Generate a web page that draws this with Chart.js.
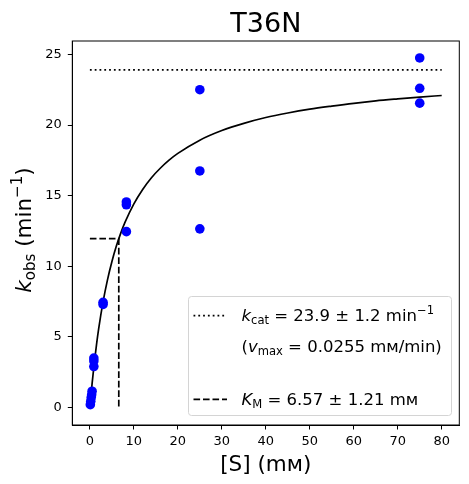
<!DOCTYPE html>
<html>
<head>
<meta charset="utf-8">
<script src="https://cdn.jsdelivr.net/npm/chart.js@4"></script>
<style>
  body{margin:0;background:#fff;}
  canvas{display:block;}
</style>
</head>
<body>
<canvas id="chart" width="469" height="484"></canvas>
<script>
// measured kobs vs [S] for T36N
const substrate = [0.1,0.2,0.3,0.4,0.5, 0.9,0.9,0.9, 3,3, 8.3,8.3,8.3, 25,25,25, 75,75,75];
const kobs      = [0.2,0.45,0.7,0.9,1.15, 3.5,3.3,2.9, 7.45,7.3, 14.55,14.35,12.45, 22.5,16.75,12.65, 24.75,22.6,21.55];

// fitted curve
const fitX = [0,0.5,1,1.5,2,3,4,5,6,7,8,10,12,14,16,18,20,25,30,35,40,45,50,55,60,65,70,75,80];
const fitY = [0,1.69,3.16,4.44,5.58,7.49,9.04,10.32,11.41,12.33,13.12,14.42,15.44,16.27,16.94,17.51,17.99,18.93,19.61,20.12,20.53,20.85,21.12,21.34,21.54,21.71,21.85,21.98,22.09];

const kcat = 23.9;
const KM = 6.57;

const xTicks = [0,10,20,30,40,50,60,70,80];
const yTicks = [0,5,10,15,20,25];

const FONT = '"DejaVu Sans", sans-serif';

// draw text with italic / sub / sup parts
function richWidth(ctx, parts, size){
  let w = 0;
  for(const p of parts){
    const s = (p.sub||p.sup) ? size*0.7 : size;
    ctx.font = (p.it?'italic ':'') + s + 'px ' + FONT;
    w += ctx.measureText(p.t).width;
  }
  return w;
}
function drawRich(ctx, parts, x, y, size, align){
  let w = richWidth(ctx, parts, size);
  let cx = align==='center' ? x - w/2 : x;
  ctx.textBaseline = 'alphabetic';
  ctx.textAlign = 'left';
  for(const p of parts){
    const s = (p.sub||p.sup) ? size*0.7 : size;
    ctx.font = (p.it?'italic ':'') + s + 'px ' + FONT;
    let dy = p.sub ? size*0.2 : (p.sup ? -size*0.42 : 0);
    ctx.fillText(p.t, cx, y+dy);
    cx += ctx.measureText(p.t).width;
  }
}

const decor = {
  id:'decor',
  afterDraw(chart){
    const ctx = chart.ctx, a = chart.chartArea;
    ctx.save();
    ctx.fillStyle = '#000';
    // frame
    ctx.strokeStyle = '#000'; ctx.lineWidth = 1;
    ctx.strokeRect(a.left, a.top, a.right-a.left, a.bottom-a.top);
    const cx = (a.left+a.right)/2;
    // title
    drawRich(ctx, [{t:'T36N'}], cx, 32, 27, 'center');
    // x label
    drawRich(ctx, [{t:'[S] (m\u1D0D)'}], cx, 471, 21.5, 'center');
    // y label
    ctx.save();
    ctx.translate(31, 230);
    ctx.rotate(-Math.PI/2);
    drawRich(ctx, [{t:'k',it:true},{t:'obs',sub:true},{t:' (min'},{t:'\u22121',sup:true},{t:')'}], 0, 0, 21.5, 'center');
    ctx.restore();

    // legend
    const lx = 188.5, ly = 296.5, lw = 263, lh = 119;
    ctx.beginPath();
    if(ctx.roundRect) ctx.roundRect(lx, ly, lw, lh, 3); else ctx.rect(lx, ly, lw, lh);
    ctx.fillStyle = 'rgba(255,255,255,0.8)';
    ctx.fill();
    ctx.strokeStyle = '#d4d4d4';
    ctx.lineWidth = 1;
    ctx.stroke();

    ctx.strokeStyle = '#000';
    ctx.lineWidth = 1.7;
    ctx.setLineDash([1.8,3]);
    ctx.beginPath(); ctx.moveTo(193.5, 315.7); ctx.lineTo(227, 315.7); ctx.stroke();
    ctx.setLineDash([6.6,2.9]);
    ctx.beginPath(); ctx.moveTo(193.5, 399.3); ctx.lineTo(227, 399.3); ctx.stroke();
    ctx.setLineDash([]);

    ctx.fillStyle = '#000';
    const fs = 16.5;
    drawRich(ctx, [{t:'k',it:true},{t:'cat',sub:true},{t:' = 23.9 \u00B1 1.2 min'},{t:'\u22121',sup:true}], 241.5, 320.5, fs);
    drawRich(ctx, [{t:'('},{t:'v',it:true},{t:'max',sub:true},{t:' = 0.0255 m\u1D0D/min)'}], 241.5, 351.5, fs);
    drawRich(ctx, [{t:'K',it:true},{t:'M',sub:true},{t:' = 6.57 \u00B1 1.21 m\u1D0D'}], 241.5, 405, fs);
    ctx.restore();
  }
};

const tickFont = {family: FONT, size: 13};

new Chart(document.getElementById('chart'), {
  type:'scatter',
  data:{
    datasets:[
      {
        data: substrate.map((x,i)=>({x, y:kobs[i]})),
        backgroundColor:'#0000ff', borderWidth:0, pointRadius:4.8, order:0
      },
      {
        data: fitX.map((x,i)=>({x, y:fitY[i]})),
        showLine:true, pointRadius:0, borderColor:'#000', borderWidth:1.7,
        cubicInterpolationMode:'monotone', order:1
      },
      {
        data:[{x:0,y:kcat},{x:80,y:kcat}],
        showLine:true, pointRadius:0, borderColor:'#000', borderWidth:1.7,
        borderDash:[1.8,3], order:2
      },
      {
        data:[{x:0,y:kcat/2},{x:KM,y:kcat/2},{x:KM,y:0}],
        showLine:true, pointRadius:0, borderColor:'#000', borderWidth:1.7,
        borderDash:[6.6,2.9], order:2
      }
    ]
  },
  options:{
    responsive:false,
    animation:false,
    devicePixelRatio:1,
    layout:{padding:{top:41, right:9.7, left:0, bottom:0}},
    plugins:{legend:{display:false}, tooltip:{enabled:false}},
    scales:{
      x:{
        type:'linear', min:-4, max:84,
        afterFit(s){ s.height = 59; },
        afterBuildTicks(s){ s.ticks = xTicks.map(v=>({value:v})); },
        grid:{drawOnChartArea:false, drawTicks:true, tickLength:4.5, color:'#000'},
        border:{color:'#000'},
        ticks:{color:'#000', font:tickFont, padding:4, maxRotation:0}
      },
      y:{
        type:'linear', min:-1.24, max:25.95,
        afterFit(s){ s.width = 72.3; },
        afterBuildTicks(s){ s.ticks = yTicks.map(v=>({value:v})); },
        grid:{drawOnChartArea:false, drawTicks:true, tickLength:4.5, color:'#000'},
        border:{color:'#000'},
        ticks:{color:'#000', font:tickFont, padding:6}
      }
    }
  },
  plugins:[decor]
});
</script>
</body>
</html>
